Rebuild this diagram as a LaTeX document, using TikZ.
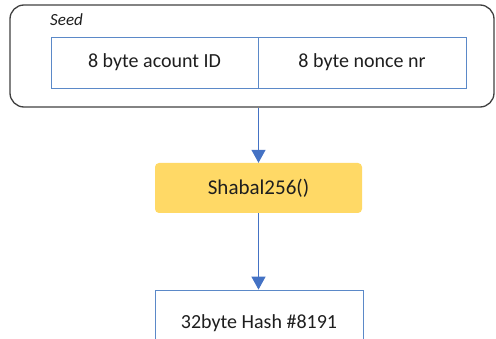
\documentclass[tikz,border=0pt]{standalone}
\usepackage{fontspec}
\setmainfont{Carlito}
\definecolor{linkblue}{RGB}{68, 114, 196}
\definecolor{fieldblue}{RGB}{91, 137, 200}
\definecolor{hashgold}{RGB}{255, 217, 102}
\definecolor{textgray}{RGB}{30, 30, 30}
\usetikzlibrary{arrows.meta, positioning, calc}

\begin{document}
\begin{tikzpicture}[x=1pt, y=1pt,
    field/.style={draw=fieldblue, line width=0.8pt, minimum width=207pt, minimum height=51pt, font=\fontsize{20}{24}\selectfont, text=textgray},
    link/.style={-{Triangle[length=13pt, width=14pt]}, draw=linkblue, line width=1.3pt}]
  \useasboundingbox (0,0) rectangle (496,338);
  \clip (0,0) rectangle (496,338);

  % Seed
  \node[draw=black!75, line width=1.3pt, rounded corners=14pt, minimum width=484pt, minimum height=102pt] (seed) at (252, 282) {};
  \node[anchor=west, font=\fontsize{17}{20}\selectfont\itshape, text=textgray, inner sep=0pt] (seedlabel) at (50, 318) {Seed};
  \node[field] (account) at (154.5, 275.5) {8 byte acount ID};
  \node[field, minimum width=208pt] (nonce) at (362, 275.5) {8 byte nonce nr};

  % Hashing
  \node[fill=hashgold, rounded corners=4pt, minimum width=207pt, minimum height=50pt, font=\fontsize{21}{25}\selectfont, text=textgray] (shabal) at (258.5, 150) {Shabal256()};
  \node[field, minimum width=208pt, minimum height=66pt] (hash) at (259, 15) {32byte Hash \#8191};

  \draw[link] (shabal.north |- seed.south) -- (shabal.north);
  \draw[link] (shabal.south) -- (shabal.south |- hash.north);
\end{tikzpicture}
\end{document}
